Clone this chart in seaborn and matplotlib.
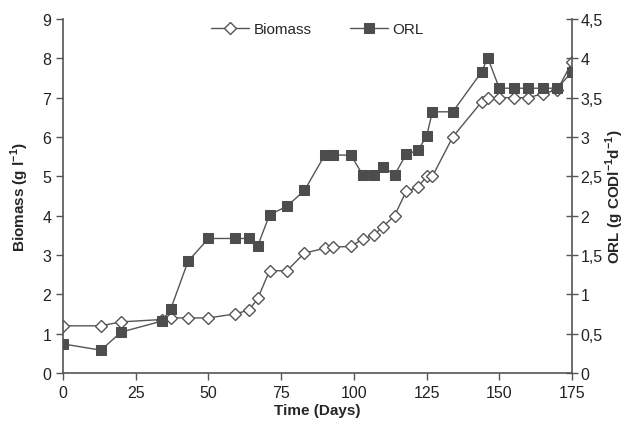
import numpy as np
import pandas as pd
import matplotlib
matplotlib.use("Agg")
import matplotlib.pyplot as plt
import seaborn as sns
from matplotlib.ticker import FuncFormatter, MultipleLocator

# data
biomass_days = [0, 13, 20, 34, 37, 43, 50, 59, 64, 67, 71, 77, 83, 90, 93, 99, 103, 107,
                110, 114, 118, 122, 125, 127, 134, 144, 146, 150, 155, 160, 165, 170, 175]
biomass = [1.2, 1.2, 1.3, 1.36, 1.4, 1.4, 1.4, 1.5, 1.6, 1.9, 2.6, 2.6, 3.05, 3.17, 3.2, 3.22,
           3.4, 3.52, 3.72, 4.0, 4.62, 4.72, 5.0, 5.0, 6.0, 6.9, 7.0, 7.0, 7.0, 7.0, 7.1, 7.2, 7.9]

orl_days = [0, 13, 20, 34, 37, 43, 50, 59, 64, 67, 71, 77, 83, 90, 93, 99, 103, 107,
            110, 114, 118, 122, 125, 127, 134, 144, 146, 150, 155, 160, 165, 170, 175]
orl = [0.37, 0.29, 0.52, 0.66, 0.81, 1.42, 1.71, 1.71, 1.71, 1.62, 2.01, 2.12, 2.32, 2.77,
       2.77, 2.77, 2.52, 2.52, 2.62, 2.52, 2.78, 2.83, 3.01, 3.32, 3.32, 3.83, 4.01, 3.62,
       3.62, 3.62, 3.62, 3.62, 3.83]

df_b = pd.DataFrame({"Time": biomass_days, "Biomass": biomass})
df_o = pd.DataFrame({"Time": orl_days, "ORL": orl})

sns.set_style("white")
plt.rcParams["font.family"] = ["Liberation Sans", "DejaVu Sans"]
plt.rcParams["mathtext.fontset"] = "custom"
plt.rcParams["mathtext.rm"] = "Liberation Sans"
plt.rcParams["mathtext.bf"] = "Liberation Sans:bold"

grey = "#555555"
fig = plt.figure(figsize=(6.35, 4.27), dpi=100)
ax = fig.add_axes([0.0992, 0.1241, 0.8016, 0.8291])
ax2 = ax.twinx()

sns.lineplot(data=df_b, x="Time", y="Biomass", ax=ax, sort=False, color=grey, lw=1,
             marker="D", markersize=6, markerfacecolor="white", markeredgecolor=grey,
             markeredgewidth=1, label="Biomass", legend=False)
sns.lineplot(data=df_o, x="Time", y="ORL", ax=ax2, sort=False, color=grey, lw=1,
             marker="s", markersize=7, markerfacecolor="#4d4d4d", markeredgecolor="#4d4d4d",
             label="ORL", legend=False)

ax.set_xlim(0, 175)
ax.set_ylim(0, 9)
ax2.set_ylim(0, 4.5)
ax.xaxis.set_major_locator(MultipleLocator(25))
ax.yaxis.set_major_locator(MultipleLocator(1))
ax2.yaxis.set_major_locator(MultipleLocator(0.5))
ax2.yaxis.set_major_formatter(FuncFormatter(lambda v, p: ("%g" % v).replace(".", ",")))

for a in (ax, ax2):
    a.spines["top"].set_visible(False)
    for s in a.spines.values():
        s.set_color(grey)
        s.set_linewidth(1.2)
ax.spines["right"].set_visible(False)
ax2.spines["left"].set_visible(False)
ax2.spines["bottom"].set_visible(False)

ax.tick_params(axis="both", direction="out", length=5, width=1, color=grey,
               labelsize=11.5, labelcolor="#222222", left=True, bottom=True)
ax2.tick_params(axis="y", direction="inout", length=8, width=1, color=grey,
                labelsize=11.5, labelcolor="#222222", right=True, pad=2)

ax.set_xlabel("Time (Days)", fontsize=11, fontweight="bold", labelpad=2)
ax.set_ylabel(r"Biomass (g l$^{\mathbf{-1}}$)", fontsize=11, fontweight="bold", labelpad=8)
ax2.set_ylabel(r"ORL (g CODl$^{\mathbf{-1}}$d$^{\mathbf{-1}}$)", fontsize=11,
               fontweight="bold", rotation=90, labelpad=1)

h1, l1 = ax.get_legend_handles_labels()
h2, l2 = ax2.get_legend_handles_labels()
ax.legend(h1 + h2, l1 + l2, loc="upper center", bbox_to_anchor=(0.5, 1.03), ncol=2,
          frameon=False, fontsize=11, handlelength=2.5, columnspacing=2.5,
          handletextpad=0.3)

fig.savefig("out.png", dpi=100)
